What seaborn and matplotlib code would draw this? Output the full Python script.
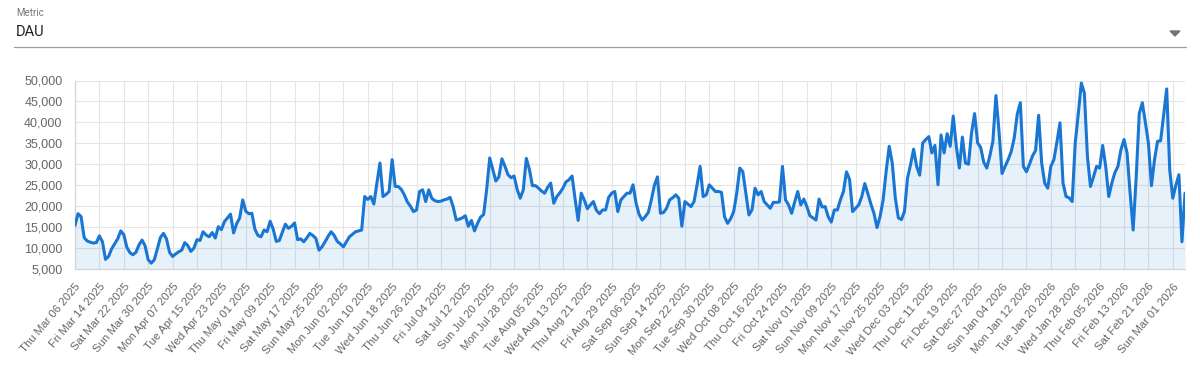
import matplotlib
matplotlib.use("Agg")
import matplotlib.pyplot as plt
from matplotlib.lines import Line2D
from matplotlib.patches import Polygon
import seaborn as sns
import pandas as pd

# ---------------- data ----------------
start_date = "2025-03-06"
dau = [
    15400, 18200, 17500, 12500, 11700, 11400, 11200,
    11300, 12900, 11500, 7300, 8000, 9800, 11000,
    12200, 14100, 13200, 10200, 8900, 8400, 9000,
    10800, 11900, 10500, 7200, 6400, 7200, 9800,
    12500, 13500, 12200, 9000, 8000, 8600, 9100,
    9500, 11300, 10600, 9200, 10000, 12000, 11800,
    13900, 13100, 12700, 13700, 12400, 15100, 14400,
    16300, 17200, 18100, 13600, 15800, 17200, 21500,
    18800, 18200, 18300, 14500, 13000, 12700, 14300,
    13900, 16400, 14500, 11600, 11800, 13800, 15700,
    14700, 15200, 16000, 12000, 12200, 11500, 12400,
    13500, 13000, 12300, 9500, 10300, 11500, 12800,
    13900, 13000, 11600, 11000, 10300, 11500, 12700,
    13300, 13900, 14100, 14300, 22300, 21600, 22300,
    20500, 25500, 30300, 22300, 22800, 23500, 31100,
    24700, 24700, 24000, 22700, 21000, 20000, 18700,
    19100, 23500, 23900, 21100, 23900, 21900, 21300,
    21100, 21200, 21500, 21700, 22100, 19900, 16700,
    16900, 17200, 17700, 15200, 16600, 14100, 15900,
    17400, 18000, 24000, 31500, 28800, 26000, 27000,
    31300, 29500, 27500, 26800, 27200, 24000, 21900,
    23900, 31400, 28800, 24900, 24900, 24300, 23600,
    23100, 24500, 25500, 20700, 22300, 23200, 24300,
    25800, 26300, 27200, 21700, 16600, 23100, 21500,
    19400, 20300, 21100, 19000, 18200, 19100, 19100,
    22100, 23100, 23500, 18700, 21500, 22300, 23100,
    23100, 25100, 20700, 18000, 16700, 17500, 18500,
    21500, 25000, 27000, 18300, 18500, 19500, 21500,
    22000, 22700, 21900, 15200, 21100, 20500, 19900,
    21100, 25100, 29500, 22300, 22700, 25100, 24300,
    23500, 23500, 23300, 17500, 15900, 17000, 18700,
    23100, 29100, 28200, 23000, 17900, 19100, 24300,
    22700, 23500, 21100, 20300, 19500, 20900, 20900,
    21000, 29500, 21500, 20300, 18300, 21000, 23500,
    20300, 21700, 19900, 17700, 17200, 16700, 21700,
    19800, 19900, 17500, 16200, 19100, 19100, 21500,
    23500, 28200, 26400, 18700, 19500, 20300, 22300,
    25400, 23000, 20500, 18300, 14900, 17500, 21500,
    28300, 34300, 30300, 22000, 17200, 16800, 18700,
    26700, 29900, 33600, 29500, 27400, 35100, 35900,
    36600, 32700, 34500, 25100, 37000, 32700, 37300,
    34300, 41500, 34300, 29100, 36500, 30300, 30000,
    37500, 42100, 35100, 34000, 30500, 29100, 32000,
    35500, 46400, 38000, 27800, 29500, 31100, 33000,
    36300, 42000, 44700, 29500, 28200, 30000, 32000,
    33300, 41700, 30300, 25500, 24300, 29500, 31100,
    35300, 39900, 25500, 22300, 22000, 21100, 35100,
    42000, 49400, 47000, 31900, 24700, 27000, 29500,
    29100, 34500, 29500, 22300, 25500, 28000, 29500,
    33500, 35900, 32700, 23100, 14300, 27000, 42100,
    44700, 40000, 35100, 24900, 31100, 35500, 35600,
    41900, 48000, 28600, 21900, 25000, 27500, 11500,
    23100,
]
y_ticks = [5000, 10000, 15000, 20000, 25000, 30000, 35000, 40000, 45000, 50000]
tick_step_days = 8
metric_label = "Metric"
metric_value = "DAU"

dates = pd.date_range(start_date, periods=len(dau), freq="D")
df = pd.DataFrame({"date": dates, "DAU": dau})

# ---------------- style ----------------
sns.set_theme(style="white")
plt.rcParams["font.family"] = ["Liberation Sans", "DejaVu Sans"]

W, H = 1200, 369
fig = plt.figure(figsize=(W / 100, H / 100), dpi=100)
ax = fig.add_axes([75 / W, (H - 269) / H, 1110 / W, 188.5 / H])

line_color = "#1976d2"
ax.fill_between(df["date"], df["DAU"], y_ticks[0], color=line_color, alpha=0.1,
                linewidth=0, zorder=2)
sns.lineplot(data=df, x="date", y="DAU", ax=ax, color=line_color, linewidth=2.2,
             zorder=3)
for l in ax.lines:
    l.set_solid_joinstyle("round")
    l.set_solid_capstyle("round")

ax.set_xlim(dates[0], dates[-1])
ax.set_ylim(y_ticks[0], y_ticks[-1])
ax.set_yticks(y_ticks)
ax.set_yticklabels([f"{v:,}" for v in y_ticks])
tick_dates = dates[::tick_step_days]
ax.set_xticks(tick_dates)
ax.set_xticklabels([d.strftime("%a %b %d %Y") for d in tick_dates], rotation=50,
                   ha="right", va="top", rotation_mode="anchor")

ax.grid(True, color="#e5e5e5", linewidth=0.8)
ax.set_axisbelow(True)
ax.tick_params(axis="both", length=6, width=0.8, color="#e0e0e0",
               labelcolor="#666666", pad=3)
ax.tick_params(axis="x", labelsize=8.2)
ax.tick_params(axis="y", labelsize=9)
for s in ["top", "right"]:
    ax.spines[s].set_visible(False)
for s in ["left", "bottom"]:
    ax.spines[s].set_color("#d5d5d5")
    ax.spines[s].set_linewidth(0.9)
ax.set_xlabel("")
ax.set_ylabel("")

# ---------------- header (select box) ----------------
fig.text(16 / W, 1 - 13 / H, metric_label, fontsize=7, color="#757575",
         va="center", ha="left", family=["Roboto", "DejaVu Sans"])
fig.text(16 / W, 1 - 32 / H, metric_value, fontsize=10.5, color="#212121",
         va="center", ha="left", family=["Roboto", "DejaVu Sans"])
fig.add_artist(Line2D([14 / W, 1186 / W], [1 - 46.5 / H, 1 - 46.5 / H],
                      color="#9e9e9e", linewidth=0.9, transform=fig.transFigure))
tri = Polygon([[(1170) / W, 1 - 31 / H], [(1180) / W, 1 - 31 / H],
               [(1175) / W, 1 - 36 / H]], closed=True, color="#757575",
              transform=fig.transFigure)
fig.add_artist(tri)

fig.savefig("out.png", dpi=100)
